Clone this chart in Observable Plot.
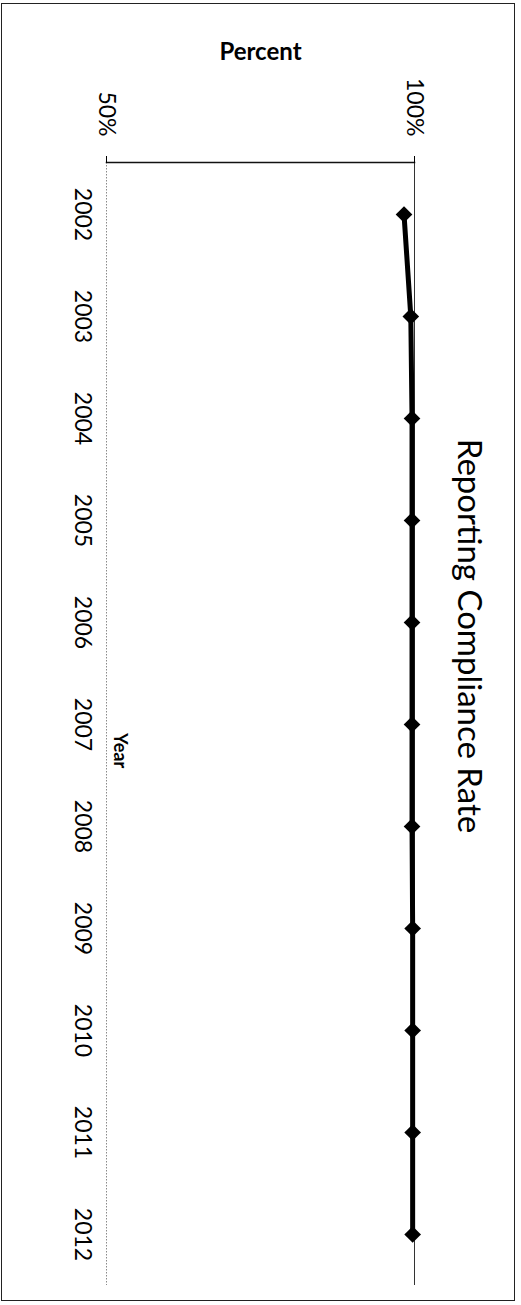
<!DOCTYPE html>
<html>
<head>
<meta charset="utf-8">
<script src="https://cdn.jsdelivr.net/npm/d3@7"></script>
<script src="https://cdn.jsdelivr.net/npm/@observablehq/plot@0.6"></script>
<style>
  html, body { margin: 0; padding: 0; background: #fff; }
  #wrap { position: relative; width: 521px; height: 1305px; overflow: hidden; }
  #chart { position: absolute; left: 0; top: 0; }
  #border { position: absolute; left: 1px; top: 3px; width: 514px; height: 1298px;
            border: 1.5px solid #222; box-sizing: border-box; pointer-events: none; }
</style>
</head>
<body>
<div id="wrap"><div id="chart"></div><div id="border"></div></div>
<script>
// Reporting compliance rate by year (percent)
const years = [2002, 2003, 2004, 2005, 2006, 2007, 2008, 2009, 2010, 2011, 2012];
const rates = [98.3, 99.4, 99.6, 99.6, 99.6, 99.6, 99.6, 99.7, 99.7, 99.7, 99.7];
const percentTicks = [50, 100];
const title = "Reporting Compliance Rate";
const percentLabel = "Percent";
const yearLabel = "Year";

const data = years.map((year, i) => ({year, rate: rates[i]}));

const chart = Plot.plot({
  width: 521,
  height: 1305,
  marginLeft: 106,
  marginRight: 107,
  marginTop: 162,
  marginBottom: 20,
  style: {fontFamily: "Lato, sans-serif", color: "#000", background: "transparent"},
  x: {domain: [50, 100]},
  y: {type: "point", domain: years, padding: 0.48},
  marks: [
    // category baseline (dotted) and 100% gridline
    Plot.ruleX([50], {stroke: "#8a8a8a", strokeWidth: 1, strokeDasharray: "1.5,1.5"}),
    Plot.ruleX([100], {stroke: "#333", strokeWidth: 1}),
    Plot.frame({anchor: "top", stroke: "#111", strokeWidth: 1.5}),
    Plot.axisX({
      anchor: "top", ticks: percentTicks, tickFormat: d => d + "%",
      tickSize: 7, tickPadding: 19, tickRotate: 90,
      textAnchor: "end", lineAnchor: "middle", fontSize: 23, label: null
    }),
    Plot.axisY({
      anchor: "left", tickFormat: "d", tickSize: 0, tickPadding: 24, tickRotate: 90,
      textAnchor: "middle", lineAnchor: "middle", fontSize: 23, label: null
    }),
    // series
    Plot.line(data, {x: "rate", y: "year", stroke: "#000", strokeWidth: 5}),
    Plot.dot(data, {x: "rate", y: "year", symbol: "diamond2", r: 7.5, fill: "#000", stroke: "none"}),
    // titles
    Plot.text([title], {frameAnchor: "right", rotate: 90, textAnchor: "middle", dx: 54, dy: -88, fontSize: 33, lineAnchor: "middle", fill: "#000"}),
    Plot.text([percentLabel], {frameAnchor: "top", dy: -110, fontSize: 24, fontWeight: "bold", lineAnchor: "middle", fill: "#000"}),
    Plot.text([yearLabel], {frameAnchor: "left", rotate: 90, textAnchor: "start", dx: 13, dy: 9, fontSize: 18, fontWeight: "bold", lineAnchor: "middle", fill: "#000"})
  ]
});

document.getElementById("chart").appendChild(chart);
</script>
</body>
</html>
